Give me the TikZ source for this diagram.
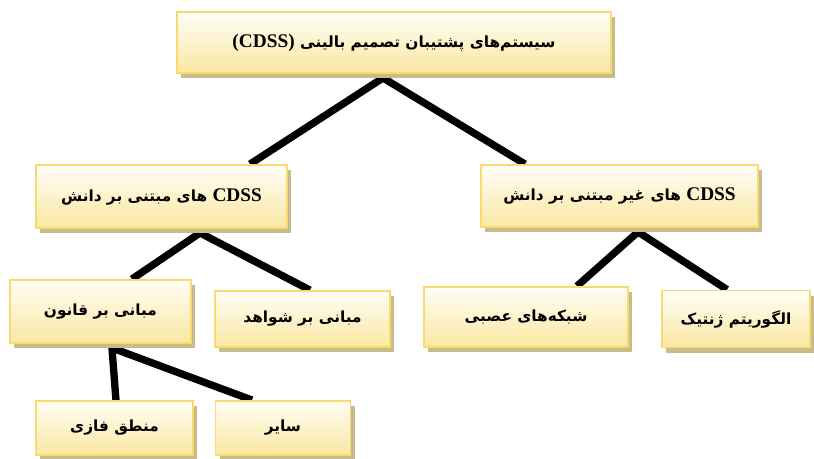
\documentclass[tikz,border=0pt]{standalone}
\usepackage{fontspec}
\setmainfont{Liberation Serif}
\newfontfamily\fafont[Script=Arabic]{DejaVu Sans}
\TeXXeTstate=1
\usepackage{tikz}
\usetikzlibrary{shadows, backgrounds}
\definecolor{boxtop}{HTML}{FFFEF7}
\definecolor{boxbot}{HTML}{FAE7A1}
\definecolor{boxline}{HTML}{F8DA70}
\definecolor{boxshadow}{HTML}{C8BC8B}
\newcommand{\fa}[1]{{\fafont\bfseries\fontsize{11.5}{13}\selectfont\beginR #1\endR}}
\newcommand{\lat}[1]{\beginL{\rmfamily\bfseries\fontsize{14.5}{16}\selectfont #1}\endL{}}
\tikzset{
  card/.style={rectangle, draw=boxline, line width=1.4pt, top color=boxtop, bottom color=boxbot,
    drop shadow={shadow xshift=3pt, shadow yshift=-4pt, fill=boxshadow, opacity=1},
    align=center, inner sep=2pt},
  link/.style={line width=5.5pt, draw=black, line join=miter}
}
\begin{document}
\begin{tikzpicture}[x=0.75pt, y=-0.75pt]
  \useasboundingbox (0,0) rectangle (814,459);

  \node[card, minimum width=325.5pt, minimum height=45.75pt] (cdss) at (394,42.5)
    {\fa{سیستم‌های پشتیبان تصمیم بالینی \lat{(CDSS)}}};
  \node[card, minimum width=188.25pt, minimum height=47.25pt] (kb) at (161.5,196.5)
    {\fa{\lat{CDSS} های مبتنی بر دانش}};
  \node[card, minimum width=207.75pt, minimum height=46.5pt] (nkb) at (619.5,196)
    {\fa{\lat{CDSS} های غیر مبتنی بر دانش}};
  \node[card, minimum width=135.75pt, minimum height=47.25pt] (rule) at (100.5,311.5)
    {\fa{مبانی بر قانون}};
  \node[card, minimum width=131.25pt, minimum height=42pt] (evid) at (302.5,319)
    {\fa{مبانی بر شواهد}};
  \node[card, minimum width=153pt, minimum height=45pt] (neural) at (526,317)
    {\fa{شبکه‌های عصبی}};
  \node[card, minimum width=111pt, minimum height=42.75pt] (genetic) at (736,319)
    {\fa{الگوریتم ژنتیک}};
  \node[card, minimum width=117.75pt, minimum height=40.5pt] (fuzzy) at (114.5,428)
    {\fa{منطق فازی}};
  \node[card, minimum width=101.25pt, minimum height=40.5pt] (other) at (283,428)
    {\fa{سایر}};

  \begin{pgfonlayer}{background}
    \draw[link] ([xshift=66.4pt]kb.north) -- ([xshift=-8.25pt,yshift=-3pt]cdss.south)
      -- ([xshift=-70.9pt]nkb.north);
    \draw[link] ([xshift=23.6pt]rule.north) -- ([xshift=28.9pt,yshift=-3pt]kb.south)
      -- ([xshift=5.6pt]evid.north);
    \draw[link] ([xshift=38.25pt]neural.north) -- ([xshift=13.9pt,yshift=-3pt]nkb.south)
      -- ([xshift=-6.75pt]genetic.north);
    \draw[link] ([xshift=1.1pt]fuzzy.north) -- ([xshift=8.6pt,yshift=-3pt]rule.south)
      -- ([xshift=-23.25pt]other.north);
  \end{pgfonlayer}
\end{tikzpicture}
\end{document}
